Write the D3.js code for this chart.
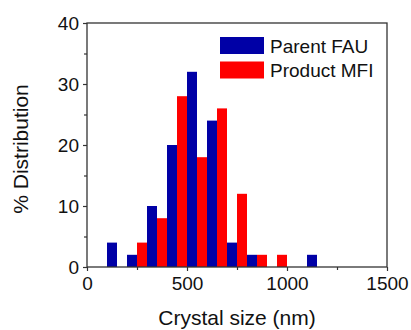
<!DOCTYPE html>
<html>
<head>
<meta charset="utf-8">
<script src="https://cdn.jsdelivr.net/npm/d3@7"></script>
<style>
  html, body { margin: 0; padding: 0; background: #fff; }
  svg { display: block; font-family: "Liberation Sans", Arial, sans-serif; }
</style>
</head>
<body>
<svg id="chart" width="411" height="330"></svg>
<script>
// Crystal size bins (lower edge, nm); each bin is 100 nm wide
const binStarts = [100, 200, 300, 400, 500, 600, 700, 800, 900, 1000, 1100];
const binWidth = 100;
// % distribution per bin
const parentFAU = [4, 2, 10, 20, 32, 24, 4, 2, 0, 0, 2];
const productMFI = [0, 4, 8, 28, 18, 26, 12, 2, 2, 0, 0];
const seriesNames = ["Parent FAU", "Product MFI"];
const seriesColors = ["#0000A6", "#FF0000"];
const xTicks = [0, 500, 1000, 1500];
const xMinorTicks = [250, 750, 1250];
const yTicks = [0, 10, 20, 30, 40];
const yMinorTicks = [5, 15, 25, 35];

const svg = d3.select("#chart");
const plotLeft = 87, plotRight = 387, plotTop = 23, plotBottom = 267;

const x = d3.scaleLinear().domain([0, 1500]).range([plotLeft, plotRight]);
const y = d3.scaleLinear().domain([0, 40]).range([plotBottom, plotTop]);

// Bars: Parent FAU in the lower half of each bin, Product MFI in the upper half
const series = [parentFAU, productMFI];
series.forEach((vals, si) => {
  svg.append("g")
    .selectAll("rect")
    .data(binStarts.map((b, i) => ({ b, v: vals[i] })).filter(d => d.v > 0))
    .join("rect")
    .attr("x", d => x(d.b + si * binWidth / 2))
    .attr("width", d => x(d.b + binWidth / 2) - x(d.b))
    .attr("y", d => y(d.v))
    .attr("height", d => y(0) - y(d.v))
    .attr("fill", seriesColors[si]);
});

const axisColor = "#333";
const tickFont = "19px";

// Frame
svg.append("rect")
  .attr("x", plotLeft).attr("y", plotTop)
  .attr("width", plotRight - plotLeft).attr("height", plotBottom - plotTop)
  .attr("fill", "none").attr("stroke", axisColor).attr("stroke-width", 1.3);

// X axis
const xAxis = svg.append("g")
  .attr("transform", `translate(0,${plotBottom})`)
  .call(d3.axisBottom(x).tickValues(xTicks).tickSize(4).tickPadding(6).tickFormat(d3.format("d")));
xAxis.select(".domain").remove();
xAxis.selectAll("line").attr("stroke", axisColor).attr("stroke-width", 1.2);
xAxis.selectAll("text").attr("font-size", tickFont).attr("fill", "#111")
  .attr("font-family", "Liberation Sans, Arial, sans-serif");
const xMinor = svg.append("g")
  .attr("transform", `translate(0,${plotBottom})`)
  .call(d3.axisBottom(x).tickValues(xMinorTicks).tickSize(3).tickFormat(""));
xMinor.select(".domain").remove();
xMinor.selectAll("line").attr("stroke", axisColor).attr("stroke-width", 1.2);

// Y axis
const yAxis = svg.append("g")
  .attr("transform", `translate(${plotLeft},0)`)
  .call(d3.axisLeft(y).tickValues(yTicks).tickSize(4).tickPadding(4));
yAxis.select(".domain").remove();
yAxis.selectAll("line").attr("stroke", axisColor).attr("stroke-width", 1.2);
yAxis.selectAll("text").attr("font-size", tickFont).attr("fill", "#111")
  .attr("font-family", "Liberation Sans, Arial, sans-serif");
const yMinor = svg.append("g")
  .attr("transform", `translate(${plotLeft},0)`)
  .call(d3.axisLeft(y).tickValues(yMinorTicks).tickSize(3).tickFormat(""));
yMinor.select(".domain").remove();
yMinor.selectAll("line").attr("stroke", axisColor).attr("stroke-width", 1.2);

// Axis titles
svg.append("text")
  .attr("x", (plotLeft + plotRight) / 2).attr("y", 325)
  .attr("text-anchor", "middle")
  .attr("font-size", "21px").attr("fill", "#111")
  .text("Crystal size (nm)");
svg.append("text")
  .attr("transform", `translate(28,${(plotTop + plotBottom) / 2 + 4}) rotate(-90)`)
  .attr("text-anchor", "middle")
  .attr("font-size", "21px").attr("fill", "#111")
  .text("% Distribution");

// Legend
const legend = svg.append("g").attr("transform", "translate(220,37)");
seriesNames.forEach((name, i) => {
  const g = legend.append("g").attr("transform", `translate(0,${i * 24.5})`);
  g.append("rect").attr("width", 44).attr("height", 17).attr("fill", seriesColors[i]);
  g.append("text").attr("x", 50).attr("y", 15.5)
    .attr("font-size", "19px").attr("fill", "#111").text(name);
});
</script>
</body>
</html>
